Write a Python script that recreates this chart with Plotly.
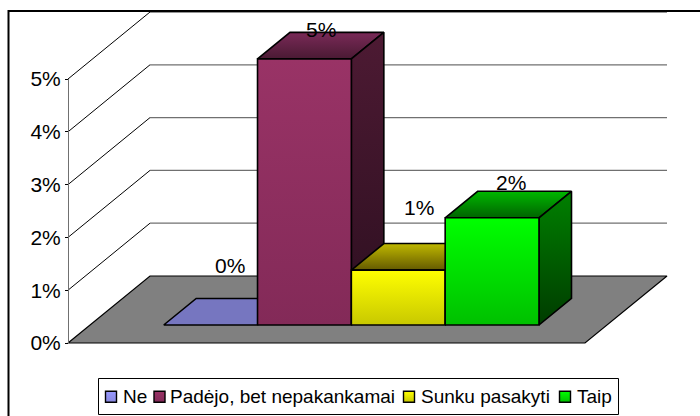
import plotly.graph_objects as go

categories = ["Ne", "Padėjo, bet nepakankamai", "Sunku pasakyti", "Taip"]
values = [0.0, 5.04, 1.04, 2.03]
bar_labels = ["0%", "5%", "1%", "2%"]
tick_values = [0, 1, 2, 3, 4, 5]
tick_labels = ["0%", "1%", "2%", "3%", "4%", "5%"]

W, H = 700, 416
FONT = "Liberation Sans"
TICK_SIZE = 21
LEG_SIZE = 19

# scales: pixels per category / per value unit, oblique depth projection
CAT_PX, VAL_PX = 94.25, 52.8
X0, Y0 = 68, 343
DX, DY = 82 / CAT_PX, 67 / VAL_PX
FLOOR_U = 517 / CAT_PX
BAR_U0 = 0.7815
BAR_W = 0.9955
D_FRONT, D_BACK = 0.2687, 0.665


def proj(u, v, d):
    return u + d * DX, v + d * DY


def poly(pts):
    p = [proj(*q) for q in pts] + [proj(*pts[0])]
    return [a for a, _ in p], [b for _, b in p]


fig = go.Figure()


def face(pts, top, bottom, lw=1.6, line="#000000"):
    x, y = poly(pts)
    kw = {}
    if top == bottom:
        kw["fillcolor"] = top
    else:
        kw["fillgradient"] = dict(type="vertical", colorscale=[[0, bottom], [1, top]])
    fig.add_trace(go.Scatter(x=x, y=y, mode="lines", fill="toself",
                             line=dict(color=line, width=lw),
                             showlegend=False, hoverinfo="skip", **kw))


def seg(a, b, color, lw):
    x, y = poly([a, b])
    fig.add_trace(go.Scatter(x=x[:2], y=y[:2], mode="lines", line=dict(color=color, width=lw),
                             showlegend=False, hoverinfo="skip"))


# walls: gridlines
for t in tick_values[1:]:
    seg((0, t, 0), (0, t, 1), "#000000", 1)
    seg((0, t, 1), (FLOOR_U, t, 1), "#707070", 1.3)

# floor
face([(0, 0, 0), (FLOOR_U, 0, 0), (FLOOR_U, 0, 1), (0, 0, 1)], "#808080", "#808080", lw=1.2)

# colours: front top/bottom, roof back/front, side top/bottom
styles = [
    ("#9999ff", "#7a7ac8", "#7676c0", "#7676c0", "#4d4d80", "#33335a"),
    ("#993366", "#832a58", "#7a2a58", "#4a1a33", "#4d1a33", "#2d0f20"),
    ("#ffff00", "#c8c800", "#c0b800", "#645a00", "#808000", "#404000"),
    ("#00ff00", "#00c000", "#00b800", "#006400", "#008000", "#003c00"),
]

for i, val in enumerate(values):
    u0, u1 = BAR_U0 + i * BAR_W, BAR_U0 + (i + 1) * BAR_W
    ft, fb, rb, rf, st, sb = styles[i]
    face([(u0, val, D_FRONT), (u1, val, D_FRONT), (u1, val, D_BACK), (u0, val, D_BACK)], rb, rf)
    if val > 0:
        face([(u1, 0, D_FRONT), (u1, 0, D_BACK), (u1, val, D_BACK), (u1, val, D_FRONT)], st, sb)
        face([(u0, 0, D_FRONT), (u1, 0, D_FRONT), (u1, val, D_FRONT), (u0, val, D_FRONT)], ft, fb)

# data labels (pixel nudges relative to the top of each bar)
label_shift = [(19, 60), (17, 29), (21, 63), (18.5, 35)]
annotations = []
for i, (val, lab) in enumerate(zip(values, bar_labels)):
    x, y = proj(BAR_U0 + (i + 0.5) * BAR_W, val, D_FRONT)
    annotations.append(dict(x=x, y=y, xref="x", yref="y", text=lab, showarrow=False,
                            xshift=label_shift[i][0], yshift=label_shift[i][1],
                            font=dict(family=FONT, size=TICK_SIZE, color="#000000")))

# value axis: carrier trace for the free-standing axis
fig.add_trace(go.Scatter(x=[None] * len(tick_values), y=tick_values, yaxis="y3", mode="lines",
                         showlegend=False, hoverinfo="skip"))

# legend, built in a full-page pixel overlay
swatch_x = [111, 159.5, 409, 565]
text_x = [121, 168, 419, 575]
swatch_y = 396.7
swatch_top = ["#9999ff", "#993366", "#ffff00", "#00ff00"]
swatch_bot = ["#8888e0", "#832a58", "#c8c800", "#00c000"]
for sx, top, bot in zip(swatch_x, swatch_top, swatch_bot):
    fig.add_trace(go.Scatter(x=[sx], y=[swatch_y], xaxis="x2", yaxis="y2", mode="markers",
                             marker=dict(symbol="square", size=11, color=top,
                                         gradient=dict(type="vertical", color=bot),
                                         line=dict(color="#000000", width=1.4)),
                             showlegend=False, hoverinfo="skip"))
for tx, name in zip(text_x, categories):
    annotations.append(dict(x=tx, y=396, xref="x2", yref="y2", text=name, showarrow=False,
                            xanchor="left", yanchor="middle",
                            font=dict(family=FONT, size=LEG_SIZE, color="#000000")))

shapes = [
    dict(type="rect", xref="x2", yref="y2", x0=98.5, x1=618.5, y0=378.5, y1=414.5,
         fillcolor="#ffffff", line=dict(color="#000000", width=1), layer="below"),
    dict(type="path", xref="x2", yref="y2", path="M 8.5 416 L 8.5 11 L 700 11",
         line=dict(color="#000000", width=2), layer="above"),
]

fig.update_layout(
    template="none",
    width=W, height=H, margin=dict(l=0, r=0, t=0, b=0, autoexpand=False),
    paper_bgcolor="#ffffff", plot_bgcolor="rgba(0,0,0,0)",
    showlegend=False, annotations=annotations, shapes=shapes,
    xaxis=dict(domain=[0, 1], range=[-X0 / CAT_PX, (W - X0) / CAT_PX], visible=False, fixedrange=True),
    yaxis=dict(domain=[0, 1], range=[(Y0 - H) / VAL_PX, Y0 / VAL_PX], visible=False, fixedrange=True),
    yaxis3=dict(domain=[(H - Y0) / H, (H - Y0 + 5 * VAL_PX) / H], range=[0, 5],
                anchor="free", position=X0 / W, side="left", overlaying=None,
                tickmode="array", tickvals=tick_values, ticktext=tick_labels,
                showgrid=False, zeroline=False, showline=True, linecolor="#707070", linewidth=1,
                ticks="outside", ticklen=3, tickcolor="#000000", tickwidth=1,
                tickfont=dict(family=FONT, size=TICK_SIZE, color="#000000"), fixedrange=True),
    xaxis2=dict(domain=[0, 1], range=[0, W], visible=False, anchor="y2", fixedrange=True),
    yaxis2=dict(domain=[0, 1], range=[H, 0], visible=False, anchor="x2", fixedrange=True),
)

fig.write_html("out.html", config={"displayModeBar": False},
               post_script="document.body.style.margin='0';document.body.style.overflow='hidden';")
